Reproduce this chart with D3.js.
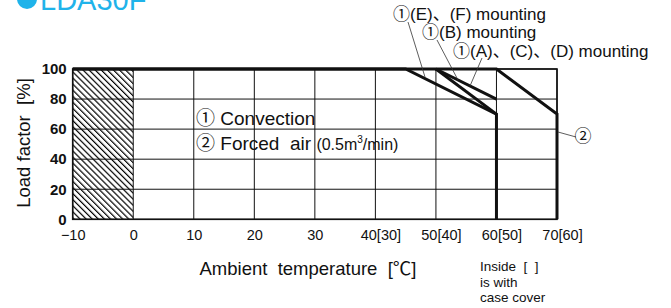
<!DOCTYPE html>
<html>
<head>
<meta charset="utf-8">
<script src="https://cdn.jsdelivr.net/npm/d3@7"></script>
<style>
  body { margin: 0; background: #fff; }
  svg { display: block; }
  text { font-family: "Liberation Sans", Arial, "Noto Sans CJK JP", sans-serif; fill: #111; white-space: pre; }
</style>
</head>
<body>
<div id="chart"></div>
<script>
// ticks
var xTicks = [-10, 0, 10, 20, 30, 40, 50, 60, 70];
var xTickLabels = ['\u221210', '0', '10', '20', '30', '40[30]', '50[40]', '60[50]', '70[60]'];
var yTicks = [0, 20, 40, 60, 80, 100];

// derating curves [temperature, load %]
var forcedAir = [[-10, 100], [60, 100], [70, 70], [70, 0]];
var convEF = [[-10, 100], [45, 100], [60, 70], [60, 0]];
var convB = [[50, 100], [60, 70]];
var convACD = [[50, 100], [60, 80]];

// operating range not allowed
var hatchRange = [-10, 0];

var width = 671, height = 308;

var svg = d3.select('#chart').append('svg')
  .attr('width', width)
  .attr('height', height);

var x = d3.scaleLinear().domain([-10, 70]).range([72.7, 557]);
var y = d3.scaleLinear().domain([0, 100]).range([219.3, 69]);

// hatch pattern
var defs = svg.append('defs');
defs.append('pattern')
  .attr('id', 'hatch')
  .attr('patternUnits', 'userSpaceOnUse')
  .attr('width', 4.3)
  .attr('height', 4.3)
  .attr('patternTransform', 'rotate(-45)')
  .append('line')
  .attr('x1', 0.6).attr('y1', 0)
  .attr('x2', 0.6).attr('y2', 4.3)
  .attr('stroke', '#000')
  .attr('stroke-width', 1.2);

svg.append('rect')
  .attr('x', x(hatchRange[0]))
  .attr('y', y(100))
  .attr('width', x(hatchRange[1]) - x(hatchRange[0]))
  .attr('height', y(0) - y(100))
  .attr('fill', 'url(#hatch)');

// grid
svg.selectAll('.vgrid').data(xTicks).enter().append('line')
  .attr('x1', function(d){ return x(d); })
  .attr('x2', function(d){ return x(d); })
  .attr('y1', y(0)).attr('y2', y(100))
  .attr('stroke', '#111').attr('stroke-width', 1);

svg.selectAll('.hgrid').data(yTicks).enter().append('line')
  .attr('x1', x(-10)).attr('x2', x(70))
  .attr('y1', function(d){ return y(d); })
  .attr('y2', function(d){ return y(d); })
  .attr('stroke', '#111').attr('stroke-width', 1);

svg.append('rect')
  .attr('x', x(-10)).attr('y', y(100))
  .attr('width', x(70) - x(-10)).attr('height', y(0) - y(100))
  .attr('fill', 'none').attr('stroke', '#111').attr('stroke-width', 1.6);

// axes labels
var xAxis = d3.axisBottom(x).tickValues(xTicks).tickSize(0).tickPadding(0)
  .tickFormat(function(d, i){ return xTickLabels[i]; });
var gx = svg.append('g').attr('transform', 'translate(0,' + (y(0) + 10) + ')').call(xAxis);
gx.select('.domain').remove();
gx.selectAll('text')
  .attr('font-size', 14.5)
  .attr('dy', '0.71em')
  .attr('dx', function(d, i){ return xTickLabels[i].indexOf('[') >= 0 ? 5 : 0; })
  .style('font-family', '"Liberation Sans", Arial, sans-serif')
  .attr('fill', '#111');

var yAxis = d3.axisLeft(y).tickValues(yTicks).tickSize(0).tickPadding(0);
var gy = svg.append('g').attr('transform', 'translate(' + (x(-10) - 6) + ',0)').call(yAxis);
gy.select('.domain').remove();
gy.selectAll('text')
  .attr('font-size', 15)
  .attr('font-weight', 'bold')
  .style('font-family', '"Liberation Sans", Arial, sans-serif')
  .attr('fill', '#111');

// curves
var line = d3.line()
  .x(function(d){ return x(d[0]); })
  .y(function(d){ return y(d[1]); });

[forcedAir, convEF, convB, convACD].forEach(function(s){
  svg.append('path')
    .attr('d', line(s))
    .attr('fill', 'none')
    .attr('stroke', '#111')
    .attr('stroke-width', 3)
    .attr('stroke-linejoin', 'miter');
});

// leaders
var leaders = [
  [[408, 22], [425, 77]],
  [[437, 40], [458, 80]],
  [[482, 58], [470, 86]],
  [[558, 132], [576, 137]]
];
leaders.forEach(function(l){
  svg.append('line')
    .attr('x1', l[0][0]).attr('y1', l[0][1])
    .attr('x2', l[1][0]).attr('y2', l[1][1])
    .attr('stroke', '#333').attr('stroke-width', 0.8);
});

// title
svg.append('circle').attr('cx', 27).attr('cy', -1).attr('r', 10).attr('fill', '#1fb3ea');
svg.append('text').attr('x', 40).attr('y', 10)
  .attr('font-size', 29).style('fill', '#1fb3ea')
  .text('LDA30F');

// annotations
var ann = [
  ['\u2460(E)\u3001(F) mounting', 393, 20],
  ['\u2460(B) mounting', 422, 38],
  ['\u2460(A)\u3001(C)\u3001(D) mounting', 453, 57]
];
ann.forEach(function(a){
  svg.append('text').attr('x', a[1]).attr('y', a[2])
    .attr('font-size', 17).text(a[0]);
});

svg.append('text').attr('x', 583).attr('y', 142)
  .attr('font-size', 17).attr('text-anchor', 'middle').text('\u2461');

// legend
svg.append('text').attr('x', 196).attr('y', 125)
  .attr('font-size', 19).text('\u2460 Convection');
var l2 = svg.append('text').attr('x', 196).attr('y', 150).attr('font-size', 19);
l2.append('tspan').text('\u2461 Forced  air ');
l2.append('tspan').attr('font-size', 16).text('(0.5m');
l2.append('tspan').attr('font-size', 10).attr('dy', -7).text('3');
l2.append('tspan').attr('font-size', 16).attr('dy', 7).text('/min)');

// axis titles
svg.append('text')
  .attr('transform', 'translate(30,143) rotate(-90)')
  .attr('text-anchor', 'middle')
  .attr('font-size', 18.5)
  .text('Load factor  [%]');

svg.append('text')
  .attr('x', 308).attr('y', 275)
  .attr('text-anchor', 'middle')
  .attr('font-size', 18.5)
  .text('Ambient  temperature  [\u2103]');

var note = ['Inside  [  ]', 'is with', 'case cover'];
svg.selectAll('.note').data(note).enter().append('text')
  .attr('x', 480)
  .attr('y', function(d, i){ return 271 + i * 15.5; })
  .attr('font-size', 13.5)
  .text(function(d){ return d; });
</script>
</body>
</html>
